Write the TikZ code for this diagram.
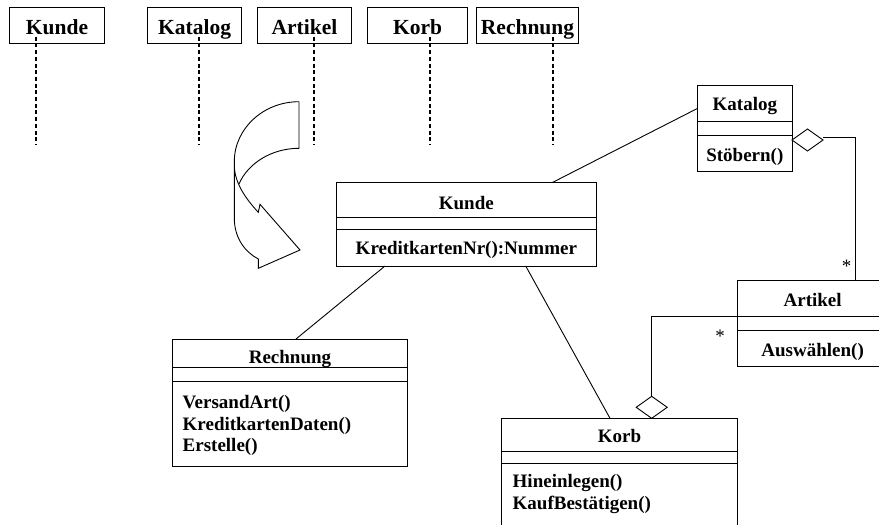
\documentclass[tikz,border=0pt]{standalone}
\usepackage{fontspec}
\setmainfont{Liberation Serif}
\usetikzlibrary{shapes.geometric}
\begin{document}
\begin{tikzpicture}[x=1pt,y=-1pt,
  every node/.style={inner sep=0pt, outer sep=0pt},
  txt/.style={font=\fontsize{19}{22}\selectfont\bfseries, anchor=base},
  mtxt/.style={font=\fontsize{19}{22}\selectfont\bfseries, anchor=base west},
  ltxt/.style={font=\fontsize{21.5}{24}\selectfont\bfseries, anchor=base},
  lbox/.style={draw, line width=0.9pt, minimum height=36pt},
  cpart/.style={draw, line width=0.9pt},
  life/.style={line width=2pt, dash pattern=on 4pt off 2.7pt},
  conn/.style={line width=0.9pt},
  agg/.style={diamond, draw, line width=0.9pt, fill=white, minimum width=31pt, minimum height=22pt},
  star/.style={font=\fontsize{19}{22}\selectfont}
]
\useasboundingbox (0,0) rectangle (879,525);
\clip (0,0) rectangle (879,525);

% ---- sequence heads ----
\node[lbox, minimum width=94.9pt] (hKunde) at (57.05,25.3) {};
\node[lbox, minimum width=94.6pt] (hKatalog) at (194.6,25.3) {};
\node[lbox, minimum width=93.7pt] (hArtikel) at (304.45,25.3) {};
\node[lbox, minimum width=100.3pt] (hKorb) at (417.55,25.3) {};
\node[lbox, minimum width=102.1pt] (hRechnung) at (527.55,25.3) {};
\node[ltxt] (tKunde) at (57.05,34.5) {Kunde};
\node[ltxt] (tKatalog) at (194.6,34.5) {Katalog};
\node[ltxt] (tArtikel) at (304.45,34.5) {Artikel};
\node[ltxt] (tKorb) at (417.55,34.5) {Korb};
\node[ltxt] (tRechnung) at (527.55,34.5) {Rechnung};

\coordinate (l1s) at (35.7,36.7);  \coordinate (l1e) at (35.7,145);
\coordinate (l2s) at (199,36.7);   \coordinate (l2e) at (199,145);
\coordinate (l3s) at (313.8,36.7); \coordinate (l3e) at (313.8,145);
\coordinate (l4s) at (429.8,36.7); \coordinate (l4e) at (429.8,145);
\coordinate (l5s) at (553,36.7);   \coordinate (l5e) at (553,145);
\draw[life] (l1s) -- (l1e);
\draw[life] (l2s) -- (l2e);
\draw[life] (l3s) -- (l3e);
\draw[life] (l4s) -- (l4e);
\draw[life] (l5s) -- (l5e);

% ---- curved arrow ----
\draw[line width=0.9pt, fill=white, line join=miter]
  (299,101.7) .. controls (263.3,101.7) and (234.3,128.6) .. (234.3,161.7)
  -- (234.3,218) .. controls (234.3,238) and (245,252) .. (258.3,259)
  -- (258.3,268.3) -- (300,250) -- (260,204.3) -- (258.3,212.3)
  .. controls (245,198) and (234.3,182) .. (234.3,165);
\draw[line width=0.9pt] (299,101.7) -- (299,148.3)
  .. controls (272,148.3) and (248,163) .. (239,184);

% ---- class Kunde ----
\node[cpart, minimum width=259.3pt, minimum height=34.6pt] (kT) at (466.35,200) {};
\node[cpart, minimum width=259.3pt, minimum height=12pt] (kA) at (466.35,223.3) {};
\node[cpart, minimum width=259.3pt, minimum height=36.7pt] (kM) at (466.35,247.65) {};
\node[txt] (kTt) at (466.35,209.3) {Kunde};
\node[txt] (kMt) at (466.35,254) {KreditkartenNr():Nummer};

% ---- class Katalog ----
\node[cpart, minimum width=94.3pt, minimum height=36pt] (katT) at (744.85,103) {};
\node[cpart, minimum width=94.3pt, minimum height=14.3pt] (katA) at (744.85,128.15) {};
\node[cpart, minimum width=94.3pt, minimum height=36.4pt] (katM) at (744.85,153.5) {};
\node[txt] (katTt) at (744.85,110) {Katalog};
\node[txt] (katMt) at (744.85,161) {Stöbern()};

% ---- class Artikel ----
\node[cpart, minimum width=150.7pt, minimum height=36pt] (aT) at (812.65,298.7) {};
\node[cpart, minimum width=150.7pt, minimum height=14pt] (aA) at (812.65,323.7) {};
\node[cpart, minimum width=150.7pt, minimum height=36pt] (aM) at (812.65,348.7) {};
\node[txt] (aTt) at (812.65,306.7) {Artikel};
\node[txt] (aMt) at (812.65,356.7) {Auswählen()};

% ---- class Rechnung ----
\node[cpart, minimum width=234.6pt, minimum height=28.7pt] (rT) at (290,353.35) {};
\node[cpart, minimum width=234.6pt, minimum height=14pt] (rA) at (290,374.7) {};
\node[cpart, minimum width=234.6pt, minimum height=84.3pt] (rM) at (290,423.85) {};
\node[txt] (rTt) at (290,363.3) {Rechnung};
\node[mtxt] (rM1) at (182.7,408.3) {VersandArt()};
\node[mtxt] (rM2) at (182.7,430) {KreditkartenDaten()};
\node[mtxt] (rM3) at (182.7,451.7) {Erstelle()};

% ---- class Korb ----
\node[cpart, minimum width=235.6pt, minimum height=33.4pt] (koT) at (619.5,435) {};
\node[cpart, minimum width=235.6pt, minimum height=11.6pt] (koA) at (619.5,457.5) {};
\node[cpart, minimum width=235.6pt, minimum height=76.7pt] (koM) at (619.5,501.65) {};
\node[txt] (koTt) at (619.5,442.7) {Korb};
\node[mtxt] (koM1) at (512.7,487.3) {Hineinlegen()};
\node[mtxt] (koM2) at (512.7,509.5) {KaufBestätigen()};

% ---- associations ----
\draw[conn] ([xshift=85.65pt]kT.north) -- ([yshift=-5.3pt]katT.west);
\draw[conn] ([xshift=-81.35pt]kM.south) -- ([xshift=6pt]rT.north);
\draw[conn] ([xshift=59.35pt]kM.south) -- ([xshift=-9.5pt]koT.north);

% ---- aggregations ----
\node[agg, anchor=west] (dia1) at ([yshift=13.5pt]katM.east) {};
\draw[conn] ([yshift=3pt]dia1.east) -| ([xshift=42.35pt]aT.north);
\node[agg, anchor=south] (dia2) at ([xshift=32.2pt]koT.north) {};
\draw[conn] (dia2.north) |- (aT.south west);

\node[star] (s1) at (846.7,266.7) {*};
\node[star] (s2) at (720,336) {*};
\end{tikzpicture}
\end{document}
